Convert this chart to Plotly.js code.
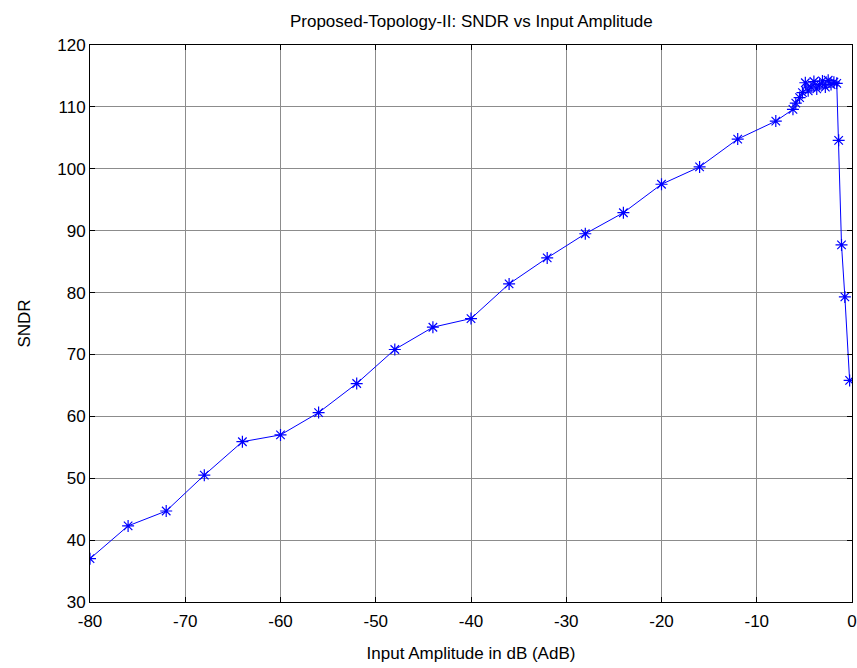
<!DOCTYPE html>
<html>
<head>
<meta charset="utf-8">
<script src="https://cdn.plot.ly/plotly-3.0.1.min.js"></script>
<style>html,body{margin:0;padding:0;background:#fff;}#chart{width:857px;height:668px;}</style>
</head>
<body>
<div id="chart"></div>
<script>
const inputAmplitude = [-80, -76, -72, -68, -64, -60, -56, -52, -48, -44, -40, -36, -32, -28, -24, -20, -16, -12, -8,
  -6.2, -5.9, -5.5, -5.2, -4.9, -4.6, -4.3, -4.0, -3.7, -3.4, -3.1, -2.8, -2.5, -2.2, -1.9, -1.6, -1.4, -1.1, -0.75, -0.25];
const sndr = [37.0, 42.3, 44.7, 50.5, 55.9, 57.0, 60.6, 65.3, 70.8, 74.4, 75.8, 81.4, 85.6, 89.5, 92.9, 97.5, 100.3, 104.8, 107.7,
  109.6, 110.6, 111.5, 112.3, 113.9, 112.6, 113.2, 114.1, 112.9, 113.6, 114.2, 113.2, 114.3, 113.6, 114.0, 113.8, 104.6, 87.7, 79.3, 65.8];

const xTickVals = [-80, -70, -60, -50, -40, -30, -20, -10, 0];
const xTickText = ['-80', '-70', '-60', '-50', '-40', '-30', '-20', '-10', '0'];
const yTickVals = [30, 40, 50, 60, 70, 80, 90, 100, 110, 120];
const yTickText = ['30', '40', '50', '60', '70', '80', '90', '100', '110', '120'];

const trace = {
  x: inputAmplitude,
  y: sndr,
  type: 'scatter',
  mode: 'lines+markers',
  line: {color: '#0000ff', width: 1},
  marker: {symbol: 'asterisk-open', size: 10, color: '#0000ff', line: {color: '#0000ff', width: 1.2}},
  cliponaxis: true,
  hoverinfo: 'x+y'
};

const FONT = 'Liberation Sans, Arial, sans-serif';
const axisCommon = {
  showline: true, linecolor: '#000', linewidth: 1, mirror: 'ticks',
  ticks: 'inside', ticklen: 5, tickcolor: '#000',
  showgrid: true, gridcolor: '#8c8c8c', gridwidth: 1,
  zeroline: false,
  tickfont: {family: FONT, size: 17, color: '#000'}
};

const layout = {
  width: 857, height: 668,
  margin: {l: 90, r: 5, t: 45, b: 66},
  paper_bgcolor: '#fff', plot_bgcolor: '#fff',
  showlegend: false,
  title: {text: 'Proposed-Topology-II: SNDR vs Input Amplitude', x: 0.55, xanchor: 'center', y: 0.969, yanchor: 'middle',
    font: {family: FONT, size: 17, color: '#000'}},
  xaxis: Object.assign({}, axisCommon, {range: [-80, 0], tickmode: 'array', tickvals: xTickVals, ticktext: xTickText,
    ticklabelstandoff: 4,
    title: {text: 'Input Amplitude in dB (AdB)', standoff: 16, font: {family: FONT, size: 17, color: '#000'}}}),
  yaxis: Object.assign({}, axisCommon, {range: [30, 120], tickmode: 'array', tickvals: yTickVals, ticktext: yTickText,
    title: {text: 'SNDR', standoff: 22, font: {family: FONT, size: 17, color: '#000'}}})
};

Plotly.newPlot('chart', [trace], layout, {displayModeBar: false, staticPlot: true});
</script>
</body>
</html>
